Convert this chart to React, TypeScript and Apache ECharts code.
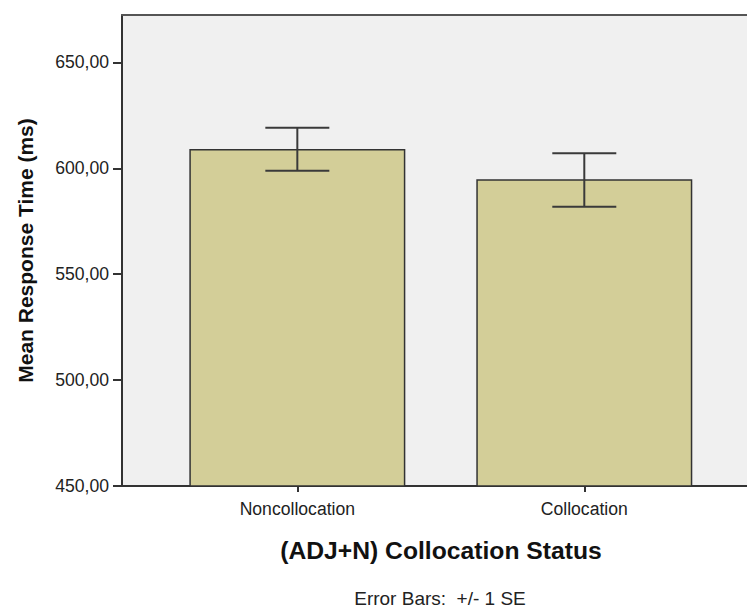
import React, { useEffect, useRef } from "react";
import * as echarts from "echarts";

const categories = ["Noncollocation", "Collocation"];
const means = [609.1, 594.8];
const seLow = [598.9, 581.9];
const seHigh = [619.2, 607.1];
const yTicks = [450, 500, 550, 600, 650];
const xTicks = [0, 1];

const FONT = "'Liberation Sans', Arial, sans-serif";

export default function App() {
  const ref = useRef<HTMLDivElement>(null);

  useEffect(() => {
    if (!ref.current) return;
    const chart = echarts.init(ref.current, undefined, { renderer: "svg" });
    const option: any = {
      animation: false,
      backgroundColor: "#ffffff",
      textStyle: { fontFamily: FONT },
      grid: {
        left: 122,
        top: 15,
        right: 0,
        bottom: 128,
        show: true,
        backgroundColor: "#f0f0f0",
        borderWidth: 0,
      },
      xAxis: [
        {
          type: "value",
          min: -0.611,
          max: 1.567,
          name: "(ADJ+N) Collocation Status",
          nameLocation: "middle",
          nameGap: 52,
          nameTextStyle: {
            fontFamily: FONT,
            fontSize: 24.7,
            fontWeight: "bold",
            color: "#111",
            padding: [0, 0, 0, 13],
          },
          axisLine: { show: true, onZero: false, lineStyle: { color: "#333", width: 2 } },
          axisTick: {
            show: true,
            customValues: xTicks,
            length: 6,
            lineStyle: { color: "#333", width: 2 },
          },
          axisLabel: {
            customValues: xTicks,
            formatter: (v: number) => categories[Math.round(v)] ?? "",
            margin: 14,
            fontFamily: FONT,
            fontSize: 17.6,
            color: "#222",
          },
          splitLine: { show: false },
        },
        {
          type: "value",
          position: "top",
          min: -0.611,
          max: 1.567,
          axisLine: { show: true, onZero: false, lineStyle: { color: "#555", width: 2 } },
          axisTick: { show: false },
          axisLabel: { show: false },
          splitLine: { show: false },
        },
      ],
      yAxis: {
        type: "value",
        min: 450,
        max: 672.4,
        interval: 50,
        name: "Mean Response Time (ms)",
        nameLocation: "middle",
        nameGap: 86,
        nameTextStyle: {
          fontFamily: FONT,
          fontSize: 21,
          fontWeight: "bold",
          color: "#111",
        },
        axisLine: { show: true, onZero: false, lineStyle: { color: "#333", width: 2 } },
        axisTick: {
          show: true,
          customValues: yTicks,
          length: 9,
          lineStyle: { color: "#333", width: 2 },
        },
        axisLabel: {
          customValues: yTicks,
          formatter: (v: number) => v.toFixed(2).replace(".", ","),
          margin: 13,
          fontFamily: FONT,
          fontSize: 17.6,
          color: "#222",
        },
        splitLine: { show: false },
      },
      series: [
        {
          type: "bar",
          xAxisIndex: 0,
          data: categories.map((_, i) => [i, means[i]]),
          barWidth: 216,
          itemStyle: {
            color: "#d3ce98",
            borderColor: "#333333",
            borderWidth: 1.5,
          },
          z: 2,
        },
        {
          type: "custom",
          xAxisIndex: 0,
          data: categories.map((_, i) => [i, seLow[i], seHigh[i]]),
          encode: { x: 0, y: [1, 2] },
          z: 3,
          renderItem: (params: any, api: any) => {
            const x = api.value(0);
            const pLo = api.coord([x, api.value(1)]);
            const pHi = api.coord([x, api.value(2)]);
            const half = 32;
            const style = { stroke: "#3a3a3a", lineWidth: 2 };
            return {
              type: "group",
              children: [
                { type: "line", shape: { x1: pHi[0], y1: pHi[1], x2: pLo[0], y2: pLo[1] }, style },
                { type: "line", shape: { x1: pHi[0] - half, y1: pHi[1], x2: pHi[0] + half, y2: pHi[1] }, style },
                { type: "line", shape: { x1: pLo[0] - half, y1: pLo[1], x2: pLo[0] + half, y2: pLo[1] }, style },
              ],
            };
          },
        },
      ],
      graphic: [
        {
          type: "text",
          x: 440,
          y: 598,
          style: {
            text: "Error Bars:  +/- 1 SE",
            textAlign: "center",
            textVerticalAlign: "middle",
            fontFamily: FONT,
            fontSize: 19,
            fill: "#222",
          },
        },
      ],
    };
    chart.setOption(option);
    return () => chart.dispose();
  }, []);

  return (
    <div
      ref={ref}
      style={{ position: "absolute", left: 0, top: 0, width: 747, height: 614 }}
    />
  );
}
